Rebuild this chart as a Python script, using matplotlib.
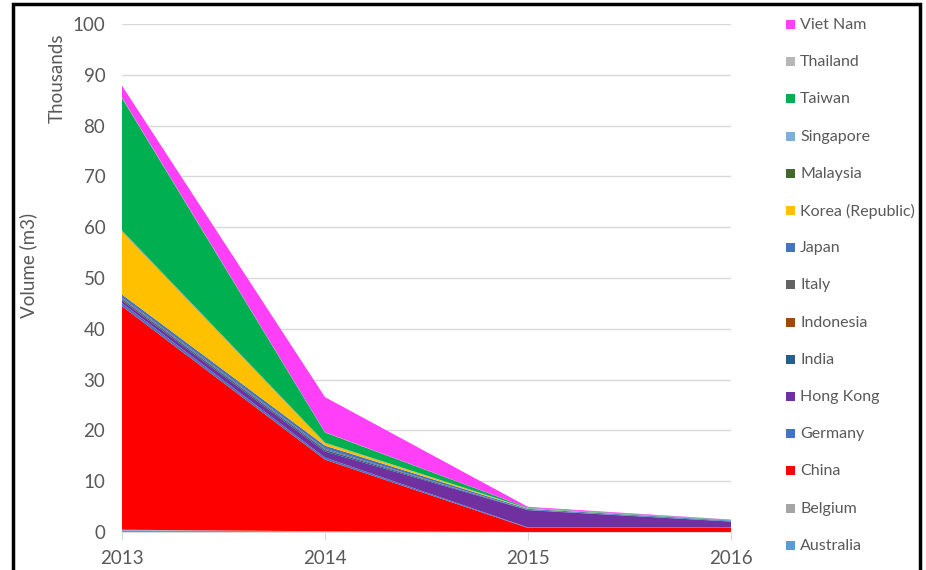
import matplotlib.pyplot as plt
from matplotlib.patches import Rectangle

# Data (thousands of m3), bottom of stack first
years = [2013, 2014, 2015, 2016]
countries = ['Australia', 'Belgium', 'China', 'Germany', 'Hong Kong', 'India',
             'Indonesia', 'Italy', 'Japan', 'Korea (Republic)', 'Malaysia',
             'Singapore', 'Taiwan', 'Thailand', 'Viet Nam']
australia = [0.35, 0.1, 0.0, 0.0]
belgium = [0.1, 0.05, 0.0, 0.0]
china = [44.0, 14.1, 0.8, 0.8]
germany = [0.6, 0.4, 0.1, 0.15]
hongkong = [0.5, 1.2, 3.4, 1.1]
india = [0.3, 0.3, 0.05, 0.05]
indonesia = [0.1, 0.05, 0.0, 0.0]
italy = [0.2, 0.2, 0.0, 0.0]
japan = [0.6, 0.6, 0.2, 0.15]
korea = [12.4, 0.5, 0.05, 0.0]
malaysia = [0.1, 0.05, 0.0, 0.0]
singapore = [0.1, 0.05, 0.05, 0.05]
taiwan = [26.1, 2.0, 0.1, 0.1]
thailand = [0.1, 0.05, 0.0, 0.0]
vietnam = [2.3, 6.9, 0.2, 0.05]

series = [australia, belgium, china, germany, hongkong, india, indonesia, italy,
          japan, korea, malaysia, singapore, taiwan, thailand, vietnam]
colors = ['#5B9BD5', '#A5A5A5', '#FF0000', '#4472C4', '#7030A0', '#255E91',
          '#9E480E', '#636363', '#4472C4', '#FFC000', '#43682B', '#7CAFDD',
          '#00B050', '#B7B7B7', '#FF40F8']

plt.rcParams['font.family'] = ['Lato', 'DejaVu Sans']
txt = '#595959'

fig = plt.figure(figsize=(9.26, 5.70), dpi=100)
ax = fig.add_axes([122/926, 38/570, 609/926, 508/570])

ax.stackplot(years, *series, colors=colors, linewidth=0)

ax.set_xlim(2013, 2016)
ax.set_ylim(0, 100)
ax.set_yticks(range(0, 101, 10))
ax.set_xticks(years)
ax.grid(axis='y', color='#D9D9D9', linewidth=1)
ax.set_axisbelow(True)
for s in ['top', 'right', 'left']:
  ax.spines[s].set_visible(False)
ax.spines['bottom'].set_color('#D9D9D9')
ax.tick_params(axis='y', length=0, labelsize=13.5, labelcolor=txt, pad=12)
ax.tick_params(axis='x', length=6, color='#D9D9D9', labelsize=13.5, labelcolor=txt, pad=7)

fig.text(28/926, 1 - 265/570, 'Volume (m3)', rotation=90, ha='center', va='center',
         fontsize=13.5, color=txt)
fig.text(57/926, 1 - 78/570, 'Thousands', rotation=90, ha='center', va='center',
         fontsize=13.5, color=txt)

# legend, top entry = last series
for i, (name, c) in enumerate(zip(countries[::-1], colors[::-1])):
  yc = 24.5 + 37.2*i
  fig.patches.append(Rectangle((786/926, 1 - (yc + 4.5)/570), 9/926, 9/570,
                               transform=fig.transFigure, facecolor=c, edgecolor='none'))
  fig.text(800/926, 1 - (yc + 0.5)/570, name, ha='left', va='center', fontsize=11.5, color=txt)

# outer frame
fig.patches.append(Rectangle((13/926, -0.05), 907/926, 1.05 - 4/570,
                             transform=fig.transFigure, facecolor='none',
                             edgecolor='black', linewidth=2.5))

plt.savefig('out.png', dpi=100)
